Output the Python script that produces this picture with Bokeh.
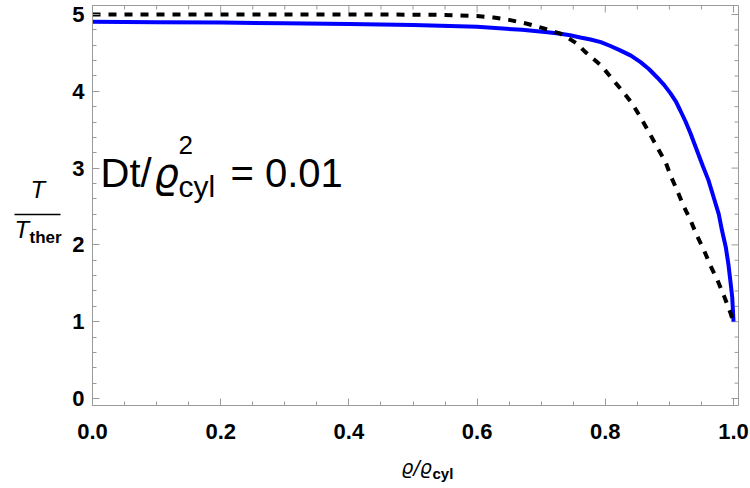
from bokeh.plotting import figure
from bokeh.models import Label, LinearAxis, FixedTicker, Range1d, PrintfTickFormatter
from bokeh.layouts import row, column
from bokeh.embed import file_html
from bokeh.resources import INLINE

# ---- data ----
blue_x = [0, 0.1, 0.2, 0.3, 0.4, 0.5, 0.6, 0.67, 0.71, 0.73, 0.745, 0.761, 0.777,
          0.793, 0.808, 0.824, 0.84, 0.855, 0.868, 0.881, 0.892, 0.902, 0.91,
          0.917, 0.925, 0.933, 0.938, 0.943, 0.952, 0.961, 0.969, 0.977, 0.982,
          0.988, 0.992, 0.995, 0.998, 1.0]
blue_y = [4.905, 4.90, 4.895, 4.887, 4.877, 4.864, 4.84, 4.80, 4.77, 4.75, 4.73,
          4.70, 4.675, 4.64, 4.59, 4.53, 4.465, 4.38, 4.29, 4.18, 4.08, 3.97, 3.87,
          3.75, 3.61, 3.45, 3.34, 3.23, 3.03, 2.84, 2.62, 2.40, 2.19, 1.97, 1.75,
          1.54, 1.32, 1.0]
dash_x = [0, 0.2, 0.4, 0.5, 0.55, 0.6, 0.626, 0.65, 0.678, 0.704, 0.73, 0.741,
          0.756, 0.769, 0.793, 0.811, 0.826, 0.842, 0.855, 0.868, 0.881, 0.894,
          0.902, 0.912, 0.922, 0.933, 0.943, 0.954, 0.964, 0.975, 0.985, 0.995, 1.0]
dash_y = [5.0, 5.0, 5.0, 4.998, 4.995, 4.98, 4.96, 4.93, 4.88, 4.82, 4.75, 4.70,
          4.62, 4.51, 4.34, 4.16, 4.01, 3.84, 3.66, 3.47, 3.27, 3.08, 2.90, 2.71,
          2.51, 2.32, 2.12, 1.93, 1.73, 1.54, 1.34, 1.12, 0.99]

x_major = [0.0, 0.2, 0.4, 0.6, 0.8, 1.0]
x_minor = [0.05, 0.1, 0.15, 0.25, 0.3, 0.35, 0.45, 0.5, 0.55, 0.65, 0.7, 0.75,
           0.85, 0.9, 0.95]
y_major = [0, 1, 2, 3, 4, 5]
y_minor = [0.2, 0.4, 0.6, 0.8, 1.2, 1.4, 1.6, 1.8, 2.2, 2.4, 2.6, 2.8, 3.2, 3.4,
           3.6, 3.8, 4.2, 4.4, 4.6, 4.8]

annotation_parts = ["Dt/", "\u03f1", "2", "cyl", "= 0.01"]
ylabel_parts = ["T", "T", "ther"]
xlabel_parts = ["\u03f1/\u03f1", "cyl"]

# ---- layout (pixels in the 750x488 picture) ----
W, H = 750, 488
SIDE_W = 64                             # left strip for the y label
XLAB_H = 33                             # bottom strip for the x label
FL, FR, FT, FB = 92, 738, 5, 405        # frame edges
X0, X1 = 92, 733                        # pixels of x=0 and x=1
Y0, Y5 = 398, 14                        # pixels of y=0 and y=5
sx = (X1 - X0)
sy = (Y0 - Y5) / 5.0
BASE_FIX = 0.42                         # Label baseline correction (x font size)

FRAME = "#9a9a9a"
FONT = "Liberation Sans"
GREEK = "DejaVu Sans"


def dx(px):
    return (px - X0) / sx


def dy(py):
    return (Y0 - py) / sy


def blank(fig):
    fig.grid.visible = False
    fig.outline_line_color = None
    fig.background_fill_color = "white"
    fig.border_fill_color = "white"


# ---------------- main plot ----------------
p = figure(width=W - SIDE_W, height=H - XLAB_H, output_backend="svg",
           toolbar_location=None,
           x_range=Range1d(dx(FL), dx(FR)), y_range=Range1d(dy(FB), dy(FT)),
           x_axis_location=None, y_axis_location=None,
           min_border_left=FL - SIDE_W, min_border_right=W - FR,
           min_border_top=FT, min_border_bottom=(H - XLAB_H) - FB)
blank(p)
p.outline_line_color = FRAME
p.outline_line_width = 1


def style(ax):
    ax.axis_line_color = FRAME
    ax.major_tick_line_color = FRAME
    ax.minor_tick_line_color = FRAME
    ax.major_tick_in = 7
    ax.major_tick_out = 0
    ax.minor_tick_in = 4
    ax.minor_tick_out = 0
    ax.major_label_text_font = FONT
    ax.major_label_text_font_style = "bold"
    ax.major_label_text_font_size = "22px"
    ax.major_label_text_color = "black"


bx = LinearAxis(ticker=FixedTicker(ticks=x_major, minor_ticks=x_minor),
                formatter=PrintfTickFormatter(format="%.1f"))
style(bx)
bx.major_label_standoff = 18
p.add_layout(bx, "below")
ly = LinearAxis(ticker=FixedTicker(ticks=y_major, minor_ticks=y_minor),
                formatter=PrintfTickFormatter(format="%d"))
style(ly)
ly.major_label_standoff = 8
p.add_layout(ly, "left")

# ticks on the top and right edges of the frame
xt_all = x_major + x_minor
xt_len = [7] * len(x_major) + [4] * len(x_minor)
yt_all = y_major + y_minor
yt_len = [7] * len(y_major) + [4] * len(y_minor)
ytop, xright = dy(FT), dx(FR)
p.segment(x0=xt_all, y0=[ytop] * len(xt_all), x1=xt_all,
          y1=[ytop - L / sy for L in xt_len], line_color=FRAME, line_width=1)
p.segment(x0=[xright] * len(yt_all), y0=yt_all,
          x1=[xright - L / sx for L in yt_len], y1=yt_all,
          line_color=FRAME, line_width=1)

# curves
p.line(blue_x, blue_y, line_color="#0000ff", line_width=4)
p.line(dash_x, dash_y, line_color="black", line_width=4, line_dash="8 8")


def lab(fig, tx, ty, text, px, py, size, style="normal", font=FONT):
    fig.add_layout(Label(x=tx(px), y=ty(py - BASE_FIX * size), text=text,
                         text_font=font, text_font_size=f"{size}px",
                         text_font_style=style, text_align="left",
                         text_baseline="alphabetic", text_color="black"))


lab(p, dx, dy, annotation_parts[0], 100, 189, 40)
lab(p, dx, dy, annotation_parts[1], 153, 189, 40, "italic", GREEK)
lab(p, dx, dy, annotation_parts[2], 178, 155, 26)
lab(p, dx, dy, annotation_parts[3], 178, 199, 30)
lab(p, dx, dy, annotation_parts[4], 230, 189, 40)

# ---------------- y label strip ----------------
yl = figure(width=SIDE_W, height=H, output_backend="svg", toolbar_location=None,
            x_range=Range1d(0, SIDE_W), y_range=Range1d(0, H),
            x_axis_location=None, y_axis_location=None,
            min_border_left=0, min_border_right=0, min_border_top=0,
            min_border_bottom=0)
blank(yl)


def yx(px):
    return px


def yy(py):
    return H - py


lab(yl, yx, yy, ylabel_parts[0], 30, 199, 24, "italic")
yl.segment(x0=[14], y0=[yy(214)], x1=[60], y1=[yy(214)], line_color="black",
           line_width=1.5)
lab(yl, yx, yy, ylabel_parts[1], 14, 239, 24, "italic")
lab(yl, yx, yy, ylabel_parts[2], 29, 244, 17, "bold")

# ---------------- x label strip ----------------
xl = figure(width=W - SIDE_W, height=XLAB_H, output_backend="svg",
            toolbar_location=None,
            x_range=Range1d(0, W - SIDE_W), y_range=Range1d(0, XLAB_H),
            x_axis_location=None, y_axis_location=None,
            min_border_left=0, min_border_right=0, min_border_top=0,
            min_border_bottom=0)
blank(xl)


def xx(px):
    return px - SIDE_W


def xy(py):
    return H - py


lab(xl, xx, xy, xlabel_parts[0], 392, 474, 19, "italic", GREEK)
lab(xl, xx, xy, xlabel_parts[1], 425, 479, 15, "bold")

layout = row(yl, column(p, xl, spacing=0), spacing=0)
open("out.html", "w").write(file_html(layout, INLINE))
